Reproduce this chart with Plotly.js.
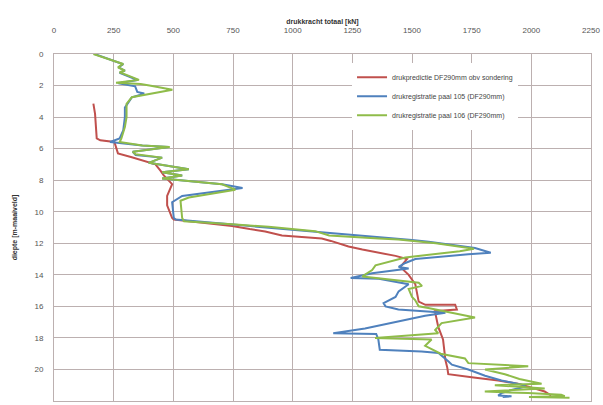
<!DOCTYPE html>
<html>
<head>
<meta charset="utf-8">
<script src="https://cdn.plot.ly/plotly-3.0.1.min.js"></script>
<style>html,body{margin:0;padding:0;background:#fff;}#chart{width:603px;height:405px;}</style>
</head>
<body>
<div id="chart"></div>
<script>
// Series names
const seriesNames = [
  "drukpredictie DF290mm obv sondering",
  "drukregistratie paal 105 (DF290mm)",
  "drukregistratie paal 106 (DF290mm)"
];

// Red: prediction (force kN, depth m)
const predForce = [165,172,179,194,253,260,268,326,425,446,460,495,474,474,495,502,746,820,885,955,1122,1160,1234,1292,1431,1479,1451,1486,1514,1528,1556,1681,1688,1596,1610,1630,1640,1648,1652,1750,1861,1944,1986,2056,2083];
const predDepth = [3.15,3.8,5.35,5.47,5.58,5.9,6.3,6.55,7.0,7.4,7.7,8.25,9.0,9.6,10.4,10.5,10.9,11.1,11.25,11.5,11.7,11.85,12.2,12.4,12.8,13.0,13.5,14.0,14.6,15.7,15.9,15.9,16.2,16.3,17.3,18.1,19.4,19.9,20.3,20.5,20.7,20.9,21.1,21.4,21.65];

// Blue: paal 105
const p105Force = [170,245,290,270,297,275,326,350,270,340,349,378,360,326,297,297,290,275,235,370,480,330,342,453,397,565,453,537,453,704,790,537,495,502,510,746,900,1094,1373,1500,1570,1764,1830,1736,1514,1472,1444,1486,1333,1243,1361,1486,1444,1431,1381,1389,1443,1640,1555,1303,1170,1350,1359,1365,1540,1611,1653,1667,1736,1806,1875,1972,1973,1917,1875,1861,1917,1880];
const p105Depth = [0.0,0.4,0.65,0.85,1.05,1.2,1.5,1.65,1.85,2.05,2.4,2.5,2.6,2.75,3.4,4.0,4.85,5.35,5.58,5.8,5.9,6.2,6.4,6.57,6.9,7.3,7.5,7.7,7.9,8.26,8.5,9.0,9.4,10.4,10.5,10.8,11.0,11.25,11.6,11.8,11.9,12.3,12.6,12.7,13.0,13.25,13.5,13.6,13.9,14.2,14.25,14.6,15.05,15.4,15.8,16.0,16.2,16.4,16.6,17.4,17.7,17.75,18.1,18.75,18.86,18.95,19.5,19.7,20.0,20.4,20.7,21.0,21.1,21.3,21.5,21.65,21.7,21.75];

// Green: paal 106
const p106Force = [165,246,290,268,297,275,326,356,260,363,400,496,326,304,304,297,282,275,370,485,330,342,453,397,565,453,537,453,704,760,565,530,537,545,746,899,1094,1153,1361,1443,1600,1760,1700,1472,1347,1333,1292,1528,1542,1486,1500,1513,1528,1568,1764,1624,1597,1610,1345,1582,1555,1620,1722,1736,1987,1806,1889,1950,2043,1847,2056,1931,1805,1986,2125,2140,1990,2160];
const p106Depth = [0.0,0.42,0.63,0.84,1.05,1.16,1.47,1.64,1.83,1.9,2.0,2.27,2.74,3.16,4.0,4.63,5.37,5.58,5.8,5.9,6.2,6.36,6.57,6.9,7.3,7.5,7.7,7.9,8.26,8.6,9.1,9.3,10.4,10.6,10.8,10.95,11.23,11.5,11.7,11.76,12.0,12.35,12.5,12.9,13.4,13.7,14.1,14.5,14.7,14.9,15.4,15.6,16.0,16.1,16.7,17.06,17.5,17.7,18.0,18.1,18.5,19.0,19.3,19.6,19.8,20.0,20.3,20.6,20.9,21.0,21.2,21.3,21.4,21.5,21.6,21.7,21.75,21.8];

const xTicks = [0,250,500,750,1000,1250,1500,1750,2000,2250];
const yTicks = [0,2,4,6,8,10,12,14,16,18,20,22];

const colors = ["#c0504d","#4f81bd","#8fbc4a"];
const xs = [predForce, p105Force, p106Force];
const ys = [predDepth, p105Depth, p106Depth];

const data = seriesNames.map((n,i)=>({
  type:'scatter', mode:'lines', name:n, x:xs[i], y:ys[i],
  line:{color:colors[i], width:2}
}));

const font = {family:"Liberation Sans, Arial, sans-serif", size:8, color:"#555"};
const layout = {
  width:603, height:405,
  margin:{l:54, r:12, t:54, b:4},
  paper_bgcolor:"#fff", plot_bgcolor:"#fff",
  font: font,
  showlegend:true,
  legend:{x:0.555, y:0.975, xanchor:'left', yanchor:'top', bgcolor:"#fff",
    font:{family:"Liberation Sans, Arial, sans-serif", size:7, color:"#444"},
    tracegroupgap:0},
  xaxis:{side:'top', range:[0,2250], tickvals:xTicks, ticktext:xTicks.map(String),
    showgrid:true, gridcolor:"#bcb0b0", gridwidth:1, zeroline:false,
    showline:true, linecolor:"#bcb0b0", mirror:true, ticks:'', ticklabelstandoff:17,
    title:{text:"<b>drukkracht totaal [kN]</b>", font:{size:7, color:"#333"}, standoff:0},
    fixedrange:true},
  yaxis:{range:[22,0], tickvals:yTicks, ticktext:yTicks.map(String),
    showgrid:true, gridcolor:"#bcb0b0", gridwidth:1, zeroline:false,
    showline:true, linecolor:"#bcb0b0", mirror:true, ticks:'', ticklabelstandoff:8,
    title:{text:"<b>diepte [m-maaiveld]</b>", font:{size:7, color:"#333"}, standoff:16},
    fixedrange:true}
};
Plotly.newPlot('chart', data, layout, {displayModeBar:false, staticPlot:true});
</script>
</body>
</html>
